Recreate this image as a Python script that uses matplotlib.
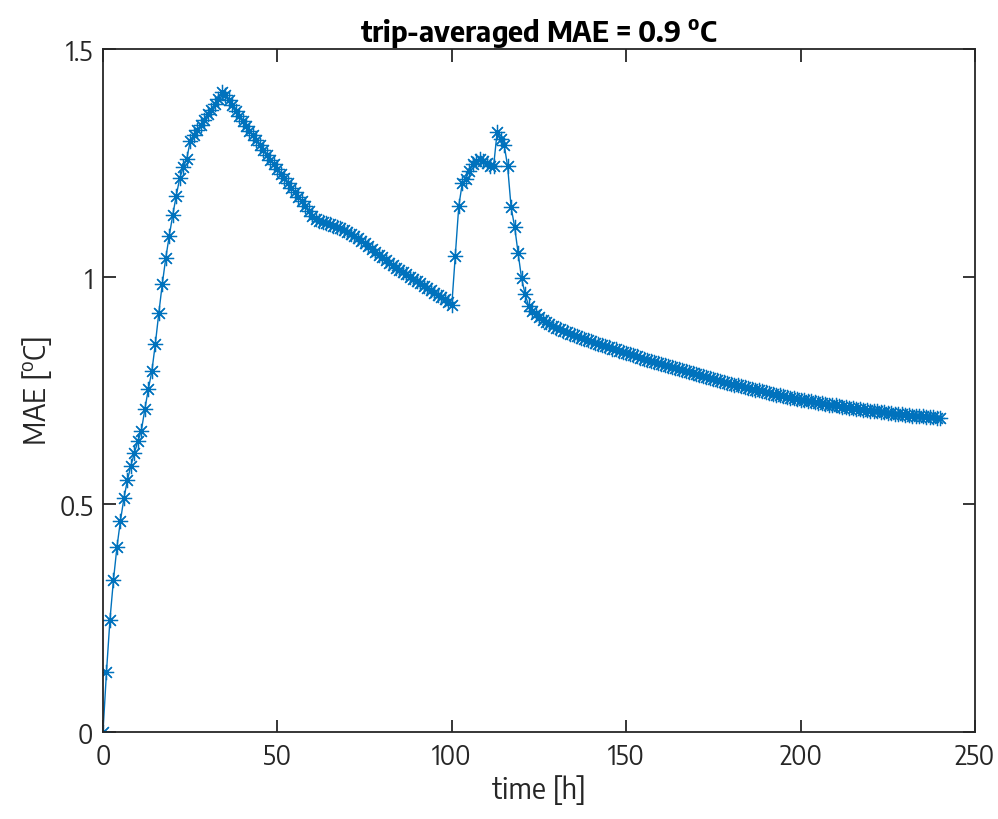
import numpy as np
import matplotlib
matplotlib.use("Agg")
import matplotlib.pyplot as plt
from matplotlib import font_manager

### --- data (hourly values, t = 0 ... 240 h)
hours = np.arange(0, 241)

mae_rise = [0.000, 0.132, 0.247, 0.334, 0.406, 0.464, 0.513, 0.553, 0.585, 0.613,
            0.638, 0.662, 0.709, 0.753, 0.792, 0.852, 0.920, 0.984, 1.041, 1.090,
            1.135, 1.178, 1.216, 1.240, 1.258, 1.297, 1.310, 1.321, 1.333, 1.345,
            1.357, 1.366, 1.379, 1.390, 1.405]                       # t = 0..34
mae_fall = [1.398, 1.388, 1.376, 1.364, 1.352, 1.341, 1.330, 1.320, 1.310, 1.299,
            1.289, 1.278, 1.268, 1.257, 1.247, 1.237, 1.226, 1.216, 1.206, 1.195,
            1.185, 1.175, 1.165, 1.154, 1.144, 1.134, 1.127]         # t = 35..61
mae_slow = [1.122, 1.120, 1.118, 1.115, 1.112, 1.109, 1.106, 1.103, 1.099, 1.094,
            1.089, 1.084, 1.079, 1.073, 1.067, 1.061, 1.055, 1.048, 1.042, 1.036,
            1.030, 1.025, 1.020, 1.015, 1.010, 1.005, 1.000, 0.995, 0.990, 0.985,
            0.980, 0.975, 0.970, 0.965, 0.960, 0.955, 0.950, 0.945, 0.938]  # t = 62..100
mae_bump = [1.045, 1.155, 1.205, 1.215, 1.232, 1.247, 1.255, 1.259, 1.255, 1.250,
            1.244, 1.244, 1.318, 1.302, 1.290, 1.242, 1.152, 1.110, 1.052, 0.996,
            0.962, 0.936, 0.925]                                     # t = 101..123
mae_tail = [0.918, 0.911, 0.905, 0.900, 0.896, 0.892, 0.888, 0.885, 0.881, 0.878,
            0.875, 0.872, 0.869, 0.866, 0.863, 0.861, 0.858, 0.855, 0.853, 0.850,
            0.848, 0.845, 0.842, 0.840, 0.837, 0.835, 0.832, 0.830, 0.827, 0.825,
            0.822, 0.820, 0.818, 0.815, 0.813, 0.810, 0.808, 0.806, 0.804, 0.801,
            0.799, 0.797, 0.795, 0.793, 0.790, 0.788, 0.786, 0.784, 0.782, 0.780,
            0.777, 0.775, 0.773, 0.771, 0.769, 0.767, 0.765, 0.763, 0.761, 0.759,
            0.757, 0.755, 0.753, 0.751, 0.750, 0.748, 0.746, 0.744, 0.743, 0.741,
            0.739, 0.738, 0.736, 0.734, 0.733, 0.731, 0.730, 0.728, 0.727, 0.726,
            0.724, 0.723, 0.722, 0.720, 0.719, 0.718, 0.717, 0.716, 0.714, 0.713,
            0.712, 0.711, 0.710, 0.709, 0.708, 0.707, 0.706, 0.705, 0.704, 0.703,
            0.702, 0.701, 0.700, 0.699, 0.699, 0.698, 0.697, 0.696, 0.695, 0.695,
            0.694, 0.693, 0.692, 0.692, 0.691, 0.690, 0.690]         # t = 124..240

mae = np.array(mae_rise + mae_fall + mae_slow + mae_bump + mae_tail)

x_ticks = [0, 50, 100, 150, 200, 250]
y_ticks = [0, 0.5, 1, 1.5]
y_tick_labels = ["0", "0.5", "1", "1.5"]

### --- fonts: prefer a semi-condensed sans, then condensed/narrow, else Liberation Sans
names = sorted({f.name for f in font_manager.fontManager.ttflist})
fam = "Liberation Sans"
for key in ('SemiCondensed', 'Semi Condensed', 'Narrow', 'Condensed'):
    hits = [n for n in names if key in n and 'Sans' in n and 'Extra' not in n]
    if hits:
        fam = hits[0]
        break
plt.rcParams['font.family'] = [fam, 'DejaVu Sans']
plt.rcParams['mathtext.fontset'] = 'custom'
plt.rcParams['mathtext.rm'] = fam
plt.rcParams['mathtext.bf'] = fam + ':bold'

ink = '#262626'

fig = plt.figure(figsize=(9.98, 8.2), dpi=100)
ax = fig.add_axes([0.1032, 0.1061, 0.8738, 0.8330])

ax.plot(hours, mae, color='#0072BD', linewidth=1.0,
        marker=(8, 2, 0), markersize=11, markeredgewidth=0.9)

ax.set_xlim(0, 250)
ax.set_ylim(0, 1.5)
ax.set_xticks(x_ticks)
ax.set_yticks(y_ticks)
ax.set_yticklabels(y_tick_labels)
ax.tick_params(direction='in', length=9, width=1.3, colors=ink,
               labelsize=19, top=True, right=True, pad=7)
for s in ax.spines.values():
    s.set_linewidth(1.3)
    s.set_color(ink)

ax.set_xlabel('time [h]', fontsize=21, color=ink, labelpad=3)
ax.set_ylabel(r'MAE [$^{\mathrm{o}}$C]', fontsize=21, color=ink, labelpad=4)
ax.set_title(r'trip-averaged MAE = 0.9 $^{\mathbf{o}}$C', fontsize=21,
             fontweight='bold', color='black', pad=6)

fig.savefig('out.png', dpi=100)
